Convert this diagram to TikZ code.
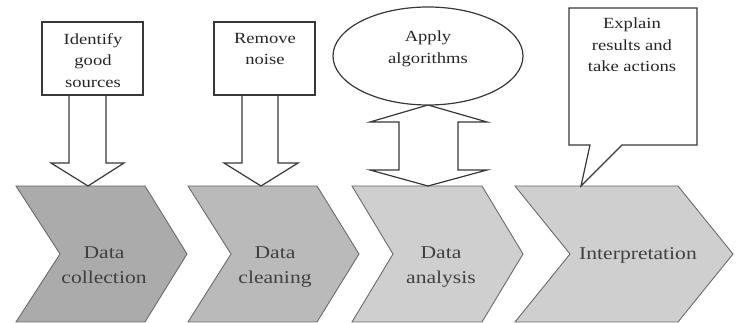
\documentclass[tikz,border=0pt]{standalone}
\usepackage{fontspec}
\setmainfont{Liberation Serif}[FakeStretch=1.2]
\begin{document}
\begin{tikzpicture}[x=1pt,y=-1pt,
  chev/.style={draw=black!58, line width=0.9pt, line join=miter},
  blk/.style={draw=black!78, line width=1.2pt, fill=white, line join=miter},
  boxtxt/.style={anchor=north, inner sep=0pt, align=center, text=black!85,
    font=\fontsize{15.5}{21.5}\selectfont},
  chevtxt/.style={anchor=north, inner sep=0pt, align=center, text=black!75,
    font=\fontsize{18}{24.5}\selectfont}]
\useasboundingbox (0,0) rectangle (737,323);
\fill[white] (0,0) rectangle (737,323);

% chevrons
\draw[chev, fill=black!33] (16,186) -- (145,186) -- (187,254) -- (145,322) -- (16,322) -- (60,254) -- cycle;
\draw[chev, fill=black!27] (188,186) -- (317,186) -- (359,254) -- (317,322) -- (188,322) -- (231,254) -- cycle;
\draw[chev, fill=black!19] (352,186) -- (482,186) -- (523,254) -- (482,322) -- (352,322) -- (393,254) -- cycle;
\draw[chev, fill=black!19] (515,186) -- (678,186) -- (733,254) -- (678,322) -- (515,322) -- (570,254) -- cycle;

\node[chevtxt] (t1) at (104,247) {Data\\collection};
\node[chevtxt] (t2) at (275,247) {Data\\cleaning};
\node[chevtxt] (t3) at (441,247) {Data\\analysis};
\node[chevtxt] (t4) at (638,247) {Interpretation};

% block arrows
\draw[blk] (69,95) -- (106,95) -- (106,163) -- (124,163) -- (88,186) -- (51,163) -- (69,163) -- cycle;
\draw[blk] (242,95) -- (278,95) -- (278,163) -- (298,163) -- (261,186) -- (224,163) -- (242,163) -- cycle;
\draw[blk] (428,105) -- (487,122) -- (458,122) -- (458,170) -- (487,170) -- (428,186) -- (370,170) -- (399,170) -- (399,122) -- (370,122) -- cycle;

% boxes
\node[blk, minimum width=101pt, minimum height=73pt, inner sep=0pt] (b1) at (92.5,58.5) {};
\node[blk, minimum width=101pt, minimum height=73pt, inner sep=0pt] (b2) at (264.5,58.5) {};
\draw[blk] (428,56) ellipse [x radius=95, y radius=49];
\coordinate (e) at (428,56);
\draw[blk] (569,8) -- (697,8) -- (697,145) -- (622,145) -- (581,186) -- (590,145) -- (569,145) -- cycle;

\node[boxtxt] (l1) at (93,33) {Identify\\good\\sources};
\node[boxtxt] (l2) at (265,33) {Remove\\noise};
\node[boxtxt] (l3) at (428,31) {Apply\\algorithms};
\node[boxtxt] (l4) at (632,18) {Explain\\results and\\take actions};
\end{tikzpicture}
\end{document}
